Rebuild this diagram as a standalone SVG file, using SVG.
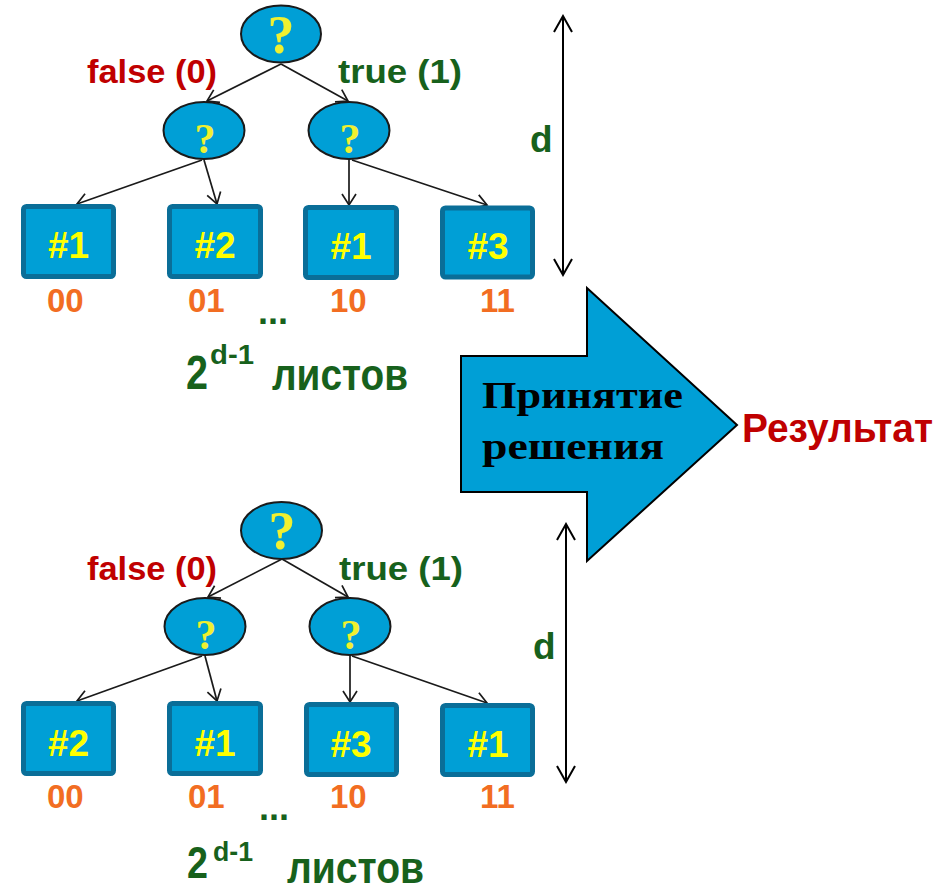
<svg xmlns="http://www.w3.org/2000/svg" width="942" height="884" viewBox="0 0 942 884">
  <style>
    .q { fill: #009fd6; stroke: #1a1a1a; stroke-width: 2; }
    .qt { font-family: "Liberation Serif", "Times New Roman", serif; font-weight: bold; fill: #f0f030; text-anchor: middle; }
    .leaf { fill: #009fd6; stroke: #0a6e98; stroke-width: 5; }
    .lt { font-family: "Liberation Sans", Arial, sans-serif; font-weight: bold; font-size: 37px; fill: #ffff00; text-anchor: middle; }
    .code { font-family: "Liberation Sans", Arial, sans-serif; font-weight: bold; font-size: 33px; fill: #f26d22; }
    .green { font-family: "Liberation Sans", Arial, sans-serif; font-weight: bold; fill: #17611c; }
    .red { font-family: "Liberation Sans", Arial, sans-serif; font-weight: bold; fill: #c00000; }
    .edge { stroke: #1a1a1a; stroke-width: 1.7; fill: none; marker-end: url(#vee); }
    .dim { stroke: #000; stroke-width: 2; fill: none; marker-start: url(#dimHead); marker-end: url(#dimHead); }
  </style>
  <defs>
    <marker id="vee" markerUnits="userSpaceOnUse" markerWidth="16" markerHeight="18" refX="13" refY="9" orient="auto">
      <path d="M2,2 L13,9 L2,16" fill="none" stroke="#1a1a1a" stroke-width="1.7"/>
    </marker>
    <marker id="dimHead" markerUnits="userSpaceOnUse" markerWidth="20" markerHeight="22" refX="18" refY="11" orient="auto-start-reverse">
      <path d="M2,2 L18,11 L2,20" fill="none" stroke="#000" stroke-width="2"/>
    </marker>
  </defs>
  <rect width="942" height="884" fill="#ffffff"/>

  <!-- connectors -->
  <g id="connectors">
    <!-- upper tree -->
    <line class="edge" x1="281" y1="64" x2="207" y2="101"/>
    <line class="edge" x1="281" y1="64" x2="348" y2="101"/>
    <line class="edge" x1="202" y1="160" x2="77" y2="204"/>
    <line class="edge" x1="204" y1="160" x2="217" y2="204"/>
    <line class="edge" x1="349" y1="160" x2="349" y2="205"/>
    <line class="edge" x1="352" y1="160" x2="487" y2="205"/>
    <!-- lower tree -->
    <line class="edge" x1="282" y1="559" x2="208" y2="597"/>
    <line class="edge" x1="282" y1="559" x2="348" y2="597"/>
    <line class="edge" x1="202" y1="656" x2="77" y2="701"/>
    <line class="edge" x1="205" y1="656" x2="217" y2="701"/>
    <line class="edge" x1="350" y1="656" x2="350" y2="702"/>
    <line class="edge" x1="352" y1="656" x2="487" y2="703"/>
    <!-- depth dimensions -->
    <line class="dim" x1="563" y1="16" x2="563" y2="275"/>
    <line class="dim" x1="566" y1="524" x2="566" y2="782"/>
  </g>

  <!-- upper tree -->
  <g id="t1-root"><ellipse class="q" cx="281" cy="34" rx="40" ry="28.5"/><text class="qt" x="281" y="53" font-size="54">?</text></g>
  <g id="t1-n0"><ellipse class="q" cx="204" cy="130.5" rx="40.5" ry="28.5"/><text class="qt" x="205" y="153" font-size="42">?</text></g>
  <g id="t1-n1"><ellipse class="q" cx="349" cy="130.5" rx="40.5" ry="28.5"/><text class="qt" x="350" y="153" font-size="42">?</text></g>
  <g id="t1-l00"><rect class="leaf" x="23.5" y="206.5" width="90" height="70" rx="3"/><text class="lt" x="68.5" y="258">#1</text><text class="code" x="47" y="312">00</text></g>
  <g id="t1-l01"><rect class="leaf" x="169.5" y="206.5" width="91" height="70" rx="3"/><text class="lt" x="215" y="258">#2</text><text class="code" x="188" y="312">01</text></g>
  <g id="t1-l10"><rect class="leaf" x="305.5" y="207.5" width="91" height="70" rx="3"/><text class="lt" x="351" y="259">#1</text><text class="code" x="330" y="312">10</text></g>
  <g id="t1-l11"><rect class="leaf" x="442.5" y="208" width="90" height="69" rx="3"/><text class="lt" x="488" y="259">#3</text><text class="code" x="480" y="312">11</text></g>
  <g id="t1-labels">
    <text class="red" x="87" y="83" font-size="34" textLength="130" lengthAdjust="spacingAndGlyphs">false (0)</text>
    <text class="green" x="338" y="83" font-size="34" textLength="124" lengthAdjust="spacingAndGlyphs">true (1)</text>
    <text class="green" x="258" y="324" font-size="36">...</text>
    <text class="green" x="186" y="389" font-size="48" textLength="22" lengthAdjust="spacingAndGlyphs">2</text>
    <text class="green" x="210" y="364" font-size="28" textLength="44" lengthAdjust="spacingAndGlyphs">d-1</text>
    <text class="green" x="272" y="390" font-size="44" textLength="136" lengthAdjust="spacingAndGlyphs">листов</text>
    <text class="green" x="530" y="152" font-size="37">d</text>
  </g>

  <!-- lower tree -->
  <g id="t2-root"><ellipse class="q" cx="281.5" cy="530.5" rx="40.5" ry="28.5"/><text class="qt" x="282" y="549" font-size="54">?</text></g>
  <g id="t2-n0"><ellipse class="q" cx="205" cy="626.5" rx="40.5" ry="28.5"/><text class="qt" x="206" y="649" font-size="42">?</text></g>
  <g id="t2-n1"><ellipse class="q" cx="350" cy="626.5" rx="40.5" ry="28.5"/><text class="qt" x="351" y="649" font-size="42">?</text></g>
  <g id="t2-l00"><rect class="leaf" x="23.5" y="703.5" width="90" height="70" rx="3"/><text class="lt" x="68.5" y="756">#2</text><text class="code" x="47" y="808">00</text></g>
  <g id="t2-l01"><rect class="leaf" x="169.5" y="703.5" width="91" height="70" rx="3"/><text class="lt" x="215" y="756">#1</text><text class="code" x="188" y="808">01</text></g>
  <g id="t2-l10"><rect class="leaf" x="306.5" y="704.5" width="90" height="70" rx="3"/><text class="lt" x="351" y="757">#3</text><text class="code" x="330" y="808">10</text></g>
  <g id="t2-l11"><rect class="leaf" x="442.5" y="705.5" width="90" height="69" rx="3"/><text class="lt" x="488" y="757">#1</text><text class="code" x="480" y="808">11</text></g>
  <g id="t2-labels">
    <text class="red" x="87" y="580" font-size="34" textLength="130" lengthAdjust="spacingAndGlyphs">false (0)</text>
    <text class="green" x="339" y="580" font-size="34" textLength="124" lengthAdjust="spacingAndGlyphs">true (1)</text>
    <text class="green" x="259" y="820" font-size="36">...</text>
    <text class="green" x="187" y="878" font-size="44" textLength="21" lengthAdjust="spacingAndGlyphs">2</text>
    <text class="green" x="213" y="861" font-size="28" textLength="40" lengthAdjust="spacingAndGlyphs">d-1</text>
    <text class="green" x="287" y="883" font-size="44" textLength="137" lengthAdjust="spacingAndGlyphs">листов</text>
    <text class="green" x="533" y="659" font-size="37">d</text>
  </g>

  <!-- decision block arrow and result -->
  <g id="decision">
    <polygon points="461,356 587,356 587,288 737,425 587,561 587,492 461,492" fill="#009fd6" stroke="#000" stroke-width="2"/>
    <text x="482" y="408" font-family="'Liberation Serif', 'Times New Roman', serif" font-weight="bold" font-size="38" fill="#000" textLength="201" lengthAdjust="spacingAndGlyphs">Принятие</text>
    <text x="482" y="459" font-family="'Liberation Serif', 'Times New Roman', serif" font-weight="bold" font-size="38" fill="#000" textLength="182" lengthAdjust="spacingAndGlyphs">решения</text>
  </g>
  <g id="result">
    <text class="red" x="742" y="442" font-size="41" textLength="191" lengthAdjust="spacingAndGlyphs">Результат</text>
  </g>
</svg>
